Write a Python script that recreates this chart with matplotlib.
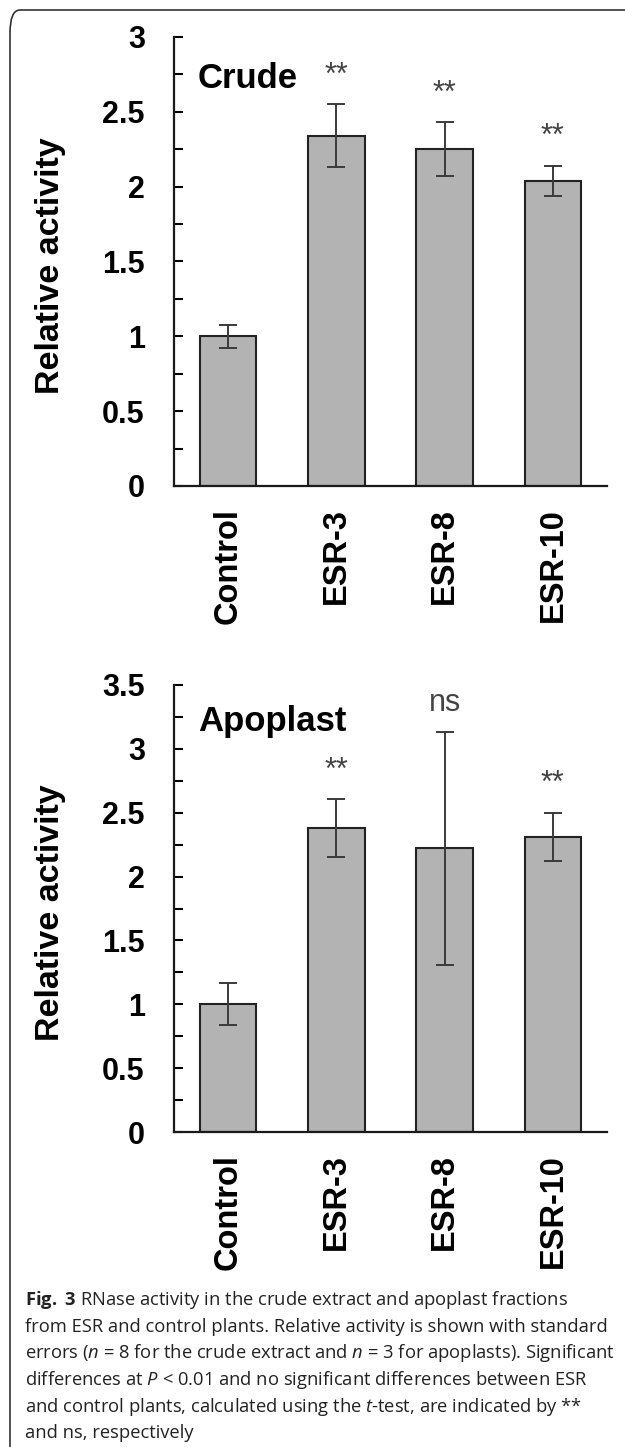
import matplotlib
matplotlib.use("Agg")
import matplotlib.pyplot as plt
from matplotlib.patches import FancyBboxPatch
from matplotlib.ticker import MultipleLocator

plt.rcParams['font.family'] = ['Liberation Sans', 'DejaVu Sans']
plt.rcParams['mathtext.fontset'] = 'custom'
plt.rcParams['mathtext.rm'] = 'Open Sans'
plt.rcParams['mathtext.it'] = 'Open Sans:italic'
plt.rcParams['mathtext.bf'] = 'Open Sans:bold'

# data
groups = ['Control', 'ESR-3', 'ESR-8', 'ESR-10']

crude_mean = [1.00, 2.34, 2.25, 2.04]
crude_err = [0.075, 0.21, 0.18, 0.10]
crude_marks = ['', '**', '**', '**']

apo_mean = [1.00, 2.38, 2.22, 2.31]
apo_err = [0.165, 0.225, 0.91, 0.19]
apo_marks = ['', '**', 'ns', '**']

caption_lines = [
    r"$\mathbf{Fig.\ 3}$ RNase activity in the crude extract and apoplast fractions",
    "from ESR and control plants. Relative activity is shown with standard",
    r"errors ($n$ = 8 for the crude extract and $n$ = 3 for apoplasts). Significant",
    r"differences at $P$ < 0.01 and no significant differences between ESR",
    r"and control plants, calculated using the $t$-test, are indicated by **",
    "and ns, respectively",
]

W, H = 625, 1447
fig = plt.figure(figsize=(W / 100, H / 100), dpi=100)


def panel(rect, means, errs, marks, ymax, title, title_y):
    ax = fig.add_axes(rect)
    x = range(len(groups))
    ax.bar(x, means, width=0.52, color='#b3b3b3', edgecolor='#222222',
           linewidth=1.5, zorder=2)
    ax.errorbar(x, means, yerr=errs, fmt='none', ecolor='#3a3a3a',
                elinewidth=1.4, capsize=6.5, capthick=1.4, zorder=3)
    for i, m in enumerate(marks):
        if m:
            ax.annotate(m, xy=(i, means[i] + errs[i]), xytext=(0, 15),
                        textcoords='offset points', ha='center', va='baseline',
                        fontsize=22, color='#444444')
    ax.set_xlim(-0.5, len(groups) - 0.5)
    ax.set_ylim(0, ymax)
    ax.yaxis.set_major_locator(MultipleLocator(0.5))
    ax.yaxis.set_minor_locator(MultipleLocator(0.25))
    ax.yaxis.set_major_formatter(lambda v, p: f"{v:g}")
    ax.set_xticks(list(x))
    ax.set_xticklabels(groups, rotation=90, fontsize=23.5, fontweight='bold')
    for lab in ax.get_yticklabels():
        lab.set_fontweight('bold')
    ax.tick_params(axis='y', which='both', direction='in', length=6.5,
                   width=1.5, pad=21, labelsize=22)
    ax.tick_params(axis='x', length=0, pad=16)
    for s in ['top', 'right']:
        ax.spines[s].set_visible(False)
    for s in ['left', 'bottom']:
        ax.spines[s].set_linewidth(1.6)
        ax.spines[s].set_color('#1a1a1a')
    ax.set_ylabel('Relative activity', fontsize=24.5, fontweight='bold')
    ax.yaxis.set_label_coords(-0.25, 0.49)
    ax.text(0.055, title_y, title, transform=ax.transAxes,
            fontsize=25, fontweight='bold', ha='left', va='baseline')
    ax.set_facecolor('none')
    return ax


panel([174 / W, 1 - 486 / H, 433 / W, 449 / H], crude_mean, crude_err,
      crude_marks, 3, 'Crude', 0.886)
panel([174 / W, 1 - 1132 / H, 433 / W, 447 / H], apo_mean, apo_err,
      apo_marks, 3.5, 'Apoplast', 0.896)

# caption
baselines = [1305, 1332, 1358, 1385, 1412, 1438]
for line, yb in zip(caption_lines, baselines):
    fig.text(25 / W, 1 - yb / H, line, fontsize=13.2, family='Open Sans',
             color='#222222', ha='left', va='baseline')

# frame with rounded top-left corner
frame = FancyBboxPatch((10 / W, -0.05), 1.2, 1 - 10 / H + 0.05,
                       boxstyle='round,pad=0,rounding_size=0.016',
                       transform=fig.transFigure, fill=False,
                       edgecolor='#333333', linewidth=1.2)
fig.patches.append(frame)

fig.savefig('out.png', dpi=100)
